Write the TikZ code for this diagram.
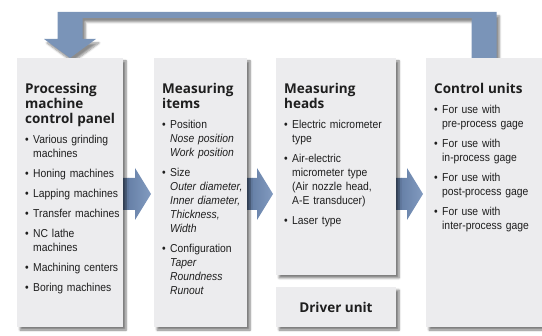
\documentclass[tikz,border=0pt]{standalone}
\usepackage{fontspec}
\setmainfont{Liberation Sans}[FakeStretch=0.9]
\newfontfamily\headfam{Open Sans}
\usetikzlibrary{positioning,calc,shadows.blur}

\pgfdeclarelayer{back}
\pgfsetlayers{back,main}

\definecolor{panelgray}{RGB}{236,236,238}
\definecolor{flowblue}{RGB}{122,148,184}
\definecolor{flowdark}{RGB}{84,110,150}
\definecolor{flowlight}{RGB}{130,155,192}
\definecolor{inkgray}{RGB}{30,30,30}

\newcommand{\hd}{\headfam\bfseries\fontsize{13.5}{15}\selectfont}
\newcommand{\itm}[1]{\par\vspace{6pt}\leftskip=8pt\noindent\llap{\makebox[8pt][l]{\textbullet}}#1\par}

\begin{document}
\begin{tikzpicture}[x=1pt,y=-1pt]
        \tikzstyle{panel}=[fill=panelgray, text=inkgray, inner sep=0pt, outer sep=0pt,
            blur shadow={shadow xshift=3pt, shadow yshift=-3pt, shadow blur steps=6, shadow opacity=50}];
        \tikzstyle{tall}=[panel, minimum height=269pt];
        \tikzstyle{txt}=[anchor=base west, inner sep=0pt, align=left, text=inkgray,
            font=\fontsize{11.5}{14}\selectfont];
        \tikzstyle{flow}=[left color=flowdark, right color=flowlight];
        \useasboundingbox (0,0) rectangle (542,336);
        % boxes
        \node[tall, minimum width=106pt, anchor=north west] (proc) at (17,58) {};
        \node[tall, minimum width=93pt, right=31pt of proc] (items) {};
        \node[panel, minimum width=120pt, minimum height=217pt, right=29pt of items.north east, anchor=north west] (heads) {};
        \node[panel, minimum width=120pt, minimum height=40pt, below=12pt of heads] (driver) {\hd Driver unit};
        \node[tall, minimum width=116pt, right=30pt of heads.north east, anchor=north west] (ctrl) {};
        % texts
        \node[txt, text width=96pt] (proct) at ($(proc.north west)+(8,36)$) {%
            {\hd Processing\\machine\\control panel\par}
            \itm{Various grinding\\machines}
            \itm{Honing machines}
            \itm{Lapping machines}
            \itm{Transfer machines}
            \itm{NC lathe\\machines}
            \itm{Machining centers}
            \itm{Boring machines}};
        \node[txt, text width=84pt] (itemst) at ($(items.north west)+(8,36)$) {%
            {\hd Measuring\\items\par}
            \itm{Position\\\textit{Nose position}\\\textit{Work position}}
            \itm{Size\\\textit{Outer diameter,}\\\textit{Inner diameter,}\\\textit{Thickness,}\\\textit{Width}}
            \itm{Configuration\\\textit{Taper}\\\textit{Roundness}\\\textit{Runout}}};
        \node[txt, text width=110pt] (headst) at ($(heads.north west)+(8,36)$) {%
            {\hd Measuring\\heads\par}
            \itm{Electric micrometer\\type}
            \itm{Air-electric\\micrometer type\\(Air nozzle head,\\A-E transducer)}
            \itm{Laser type}};
        \node[txt, text width=106pt] (ctrlt) at ($(ctrl.north west)+(8,36)$) {%
            {\hd Control units\par}
            \itm{For use with\\pre-process gage}
            \itm{For use with\\in-process gage}
            \itm{For use with\\post-process gage}
            \itm{For use with\\inter-process gage}};
        % arrows
        \coordinate (ay) at ($(proc.east)+(0,1.5)$);
        \coordinate (rim) at (0,12);
        \coordinate (rimin) at (0,18);
        \coordinate (headb) at (0,39);
        \coordinate (cr) at ($(ctrl.north)+(12.5,0)$);
        \coordinate (cl) at ($(ctrl.north)+(-12.5,0)$);
        \coordinate (pl) at ($(proc.north)+(-12.5,0)$);
        \coordinate (pr) at ($(proc.north)+(12.5,0)$);
        \begin{pgfonlayer}{back}
        \foreach \a/\b in {proc/items, items/heads, heads/ctrl}
            \shade[flow] ($(\a.east |- ay)+(-10,-16)$) -- ($(\b.west |- ay)+(-19,-16)$)
                -- ($(\b.west |- ay)+(-19,-26)$) -- ($(\b.west |- ay)+(-3,0)$)
                -- ($(\b.west |- ay)+(-19,26)$) -- ($(\b.west |- ay)+(-19,16)$)
                -- ($(\a.east |- ay)+(-10,16)$) -- cycle;
        \fill[flowblue, blur shadow={shadow xshift=3pt, shadow yshift=-4pt, shadow blur steps=6, shadow opacity=45}]
            (cr) -- (cr |- rim) -- (pl |- rim) -- (pl |- headb) -- ($(pl |- headb)+(-13.5,0)$)
            -- (proc.north) -- ($(pr |- headb)+(13.5,0)$) -- (pr |- headb) -- (pr |- rimin)
            -- (cl |- rimin) -- (cl) -- cycle;
        \end{pgfonlayer}
\end{tikzpicture}
\end{document}
